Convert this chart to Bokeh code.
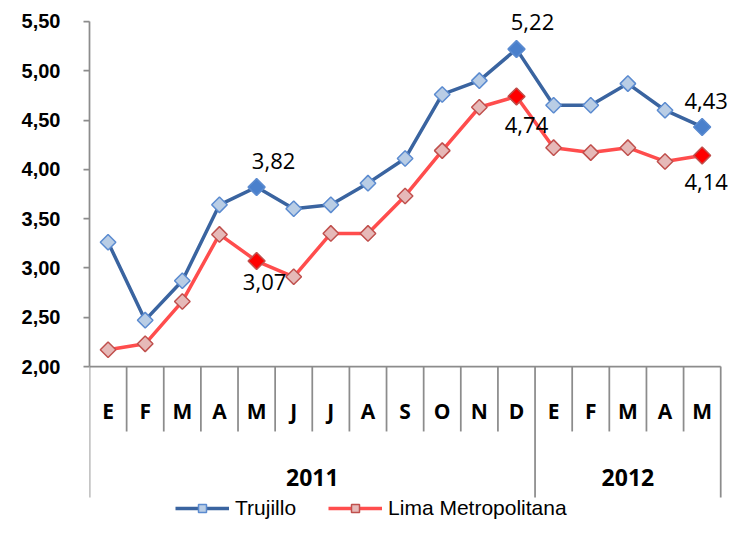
from bokeh.plotting import figure
from bokeh.models import Range1d, FixedTicker, Legend, LegendItem, ColumnDataSource
from bokeh.core.properties import value
from bokeh.embed import file_html
from bokeh.resources import INLINE

# ---------------- data ----------------
months = ["E", "F", "M", "A", "M", "J", "J", "A", "S", "O", "N", "D", "E", "F", "M", "A", "M"]
years = ["2011", "2012"]
year_counts = [12, 5]
trujillo = [3.26, 2.47, 2.87, 3.64, 3.82, 3.60, 3.64, 3.86, 4.11, 4.76, 4.90, 5.22, 4.65, 4.65, 4.87, 4.60, 4.43]
lima = [2.17, 2.23, 2.66, 3.34, 3.07, 2.91, 3.35, 3.35, 3.73, 4.19, 4.63, 4.74, 4.22, 4.17, 4.22, 4.08, 4.14]
highlight = [4, 11, 16]
y_ticks = [2.0, 2.5, 3.0, 3.5, 4.0, 4.5, 5.0, 5.5]

# ---------------- styles ----------------
T_LINE = "#3A64A0"
T_FILL = "#B9CDE5"
T_EDGE = "#5B8BD0"
T_HI = "#4A80CC"
L_LINE = "#FF4D4D"
L_FILL = "#E6B9B8"
L_EDGE = "#C0504D"
L_HI = "#FF0000"
AX = "#8C8C8C"

n = len(months)
xc = [i + 0.5 for i in range(n)]

p = figure(width=728, height=525,
           x_range=Range1d(0, 17.21), y_range=Range1d(0.387, 5.713),
           output_backend="svg", toolbar_location=None,
           x_axis_location=None, y_axis_location="left",
           min_border_left=89, min_border_right=0, min_border_top=0, min_border_bottom=0)
p.grid.visible = False
p.outline_line_color = None
p.background_fill_color = "white"

ax = p.yaxis[0]
ax.ticker = FixedTicker(ticks=y_ticks)
ax.bounds = (2.0, 5.5)
ax.major_label_overrides = {t: f"{t:.2f}".replace(".", ",") for t in y_ticks}
ax.major_tick_out = 6
ax.major_tick_in = 0
ax.minor_tick_out = 0
ax.minor_tick_in = 0
ax.axis_line_color = AX
ax.axis_line_width = 1.75
ax.major_tick_line_color = AX
ax.major_tick_line_width = 1.75
ax.major_label_standoff = 23
ax.major_label_text_font = "Liberation Sans"
ax.major_label_text_font_style = "bold"
ax.major_label_text_font_size = "20px"
ax.major_label_text_color = "black"

# ---- category axis drawn in data space ----
y_base = 2.0
y_month_end = 1.341
y_group_end = 0.671
y_month_lbl = 1.544
y_year_lbl = 0.874

p.segment(x0=[0], y0=[y_base], x1=[n], y1=[y_base], line_color=AX, line_width=1.75)
bounds = [0]
for c in year_counts:
    bounds.append(bounds[-1] + c)
short = [i for i in range(1, n) if i not in bounds]
p.segment(x0=short, y0=[y_base] * len(short), x1=short, y1=[y_month_end] * len(short),
          line_color=AX, line_width=1.75)
p.segment(x0=bounds, y0=[y_base] * len(bounds), x1=bounds, y1=[y_group_end] * len(bounds),
          line_color=AX, line_width=1.75)

p.text(x=xc, y=[y_month_lbl] * n, text=months, text_align="center", text_baseline="middle",
       text_font=value("Open Sans"), text_font_style="bold", text_font_size="21px", text_color="black")
year_x = [(bounds[i] + bounds[i + 1]) / 2 for i in range(len(years))]
p.text(x=year_x, y=[y_year_lbl] * len(years), text=years, text_align="center", text_baseline="middle",
       text_font=value("Open Sans"), text_font_style="bold", text_font_size="23px", text_color="black")

# ---- series ----
l1 = p.line(xc, trujillo, line_color=T_LINE, line_width=3.5)
l2 = p.line(xc, lima, line_color=L_LINE, line_width=3.5)
s2 = p.scatter(xc, lima, marker="square", angle=0.785398, size=11,
               fill_color=L_FILL, line_color=L_EDGE, line_width=1.5)
s1 = p.scatter(xc, trujillo, marker="square", angle=0.785398, size=11,
               fill_color=T_FILL, line_color=T_EDGE, line_width=1.5)
hx = [xc[i] for i in highlight]
p.scatter(hx, [lima[i] for i in highlight], marker="square", angle=0.785398, size=12,
          fill_color=L_HI, line_color=L_EDGE, line_width=1.5)
p.scatter(hx, [trujillo[i] for i in highlight], marker="square", angle=0.785398, size=12,
          fill_color=T_HI, line_color=T_EDGE, line_width=1.5)

# ---- data labels ----
t_dx = [17, 16, 4]
t_dy = [-26, -27, -26]
l_dx = [8, 10, 4]
l_dy = [21, 29, 26]
src_t = ColumnDataSource(dict(x=hx, y=[trujillo[i] for i in highlight],
                              t=[f"{trujillo[i]:.2f}".replace(".", ",") for i in highlight],
                              dx=t_dx, dy=t_dy))
src_l = ColumnDataSource(dict(x=hx, y=[lima[i] for i in highlight],
                              t=[f"{lima[i]:.2f}".replace(".", ",") for i in highlight],
                              dx=l_dx, dy=l_dy))
for src in (src_t, src_l):
    p.text(x="x", y="y", text="t", x_offset="dx", y_offset="dy", source=src,
           text_align="center", text_baseline="middle",
           text_font=value("Open Sans"), text_font_size="22px", text_color="black")

# ---- legend ----
legend = Legend(items=[LegendItem(label="Trujillo", renderers=[l1, s1]),
                       LegendItem(label="Lima Metropolitana", renderers=[l2, s2])],
                orientation="horizontal", location=(86, 5),
                glyph_width=54, glyph_height=20, label_standoff=6, spacing=32,
                padding=0, margin=0, border_line_color=None, background_fill_alpha=0,
                label_text_font="Liberation Sans", label_text_font_size="21px",
                label_text_color="black")
p.add_layout(legend, "center")

open("out.html", "w").write(file_html(p, INLINE))
